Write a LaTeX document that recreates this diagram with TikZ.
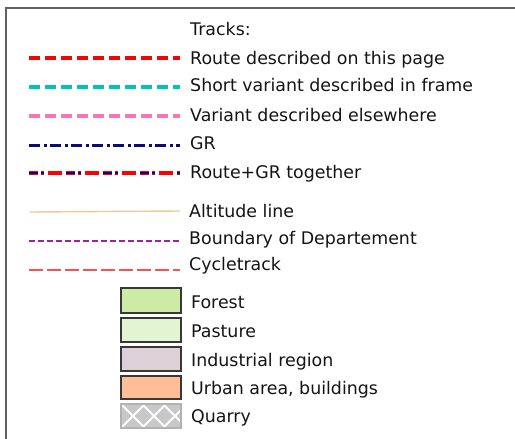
\documentclass[tikz,border=0pt]{standalone}
\usepackage{fontspec}
\setmainfont{DejaVu Sans}
\begin{document}
\begin{tikzpicture}[x=1pt,y=-1pt,
  lbl/.style={anchor=base west,inner sep=0pt,font=\fontsize{17.4}{20}\selectfont,text=black!92},
  track/.style={line width=4pt},
  areabox/.style={draw=black!78,line width=1.4pt},
]
\definecolor{routered}{HTML}{FF0000}
\definecolor{teal2}{HTML}{00C4B4}
\definecolor{pinkv}{HTML}{FF72B8}
\definecolor{navy2}{HTML}{0A0A78}
\definecolor{altorange}{HTML}{F5C898}
\definecolor{bpurple}{HTML}{A020A0}
\definecolor{cyclered}{HTML}{FF5050}
\definecolor{forestg}{HTML}{CCEBA6}
\definecolor{pastureg}{HTML}{E3F4D3}
\definecolor{industr}{HTML}{DDD0D6}
\definecolor{urban}{HTML}{FFBE96}
\definecolor{quarryg}{HTML}{C8C8C8}
\useasboundingbox (0,0) rectangle (515,439);
% frame
\draw[line width=1.5pt,black!62] (6,439) -- (6,8) -- (515,8);
% texts
\node[lbl] (tracks) at (190,35) {Tracks:};
\node[lbl] (troute) at (190,64) {Route described on this page};
\node[lbl] (tshort) at (190,92) {Short variant described in frame};
\node[lbl] (tvar) at (190,121) {Variant described elsewhere};
\node[lbl] (tgr) at (190,149) {GR};
\node[lbl] (trgr) at (190,178) {Route+GR together};
\node[lbl] (talt) at (189,217) {Altitude line};
\node[lbl] (tbound) at (189,244) {Boundary of Departement};
\node[lbl] (tcycle) at (189,270) {Cycletrack};
\node[lbl] (tforest) at (191,308) {Forest};
\node[lbl] (tpast) at (191,337) {Pasture};
\node[lbl] (tind) at (191,366) {Industrial region};
\node[lbl] (turb) at (191,394) {Urban area, buildings};
\node[lbl] (tquar) at (191,422) {Quarry};
% track lines
\draw[track,routered,dash pattern=on 11pt off 5pt] (29,58) -- (180,58);
\draw[track,teal2,dash pattern=on 11pt off 5pt] (29,87) -- (180,87);
\draw[track,pinkv,dash pattern=on 11pt off 5pt] (29,116) -- (180,116);
\draw[line width=3pt,navy2,dash pattern=on 11pt off 4pt on 3pt off 3pt] (29,145) -- (180,145);
\draw[line width=3.8pt,routered,dash pattern=on 9pt off 3pt on 3pt off 4pt on 14pt off 4pt] (29,173) -- (180,173);
\draw[line width=2.6pt,navy2,dash pattern=on 9pt off 3pt on 3pt off 22pt] (29,173) -- (180,173);
\draw[line width=1.4pt,altorange] (30,212) -- (180,211);
\draw[line width=2.4pt,bpurple,dash pattern=on 6pt off 3pt] (29,241) -- (180,241);
\draw[line width=1.3pt,cyclered,dash pattern=on 14pt off 4pt] (29,270) -- (180,270);
% area boxes
\filldraw[areabox,fill=forestg] (121,288) rectangle (181,313);
\filldraw[areabox,fill=pastureg] (121,318) rectangle (181,342);
\filldraw[areabox,fill=industr] (121,347) rectangle (181,371);
\filldraw[areabox,fill=urban] (121,376) rectangle (181,399);
\fill[quarryg] (121,404) rectangle (181,428);
\begin{scope}
\clip (121,404) rectangle (181,428);
\foreach \c in {91,112,133,154,175,196,217} {
  \draw[white,line width=1.8pt] (\c-14,430) -- (\c+14,402);
  \draw[white,line width=1.8pt] (\c-14,402) -- (\c+14,430);
}
\end{scope}
\draw[line width=1.3pt,black!30] (121,404) rectangle (181,428);
\end{tikzpicture}
\end{document}
